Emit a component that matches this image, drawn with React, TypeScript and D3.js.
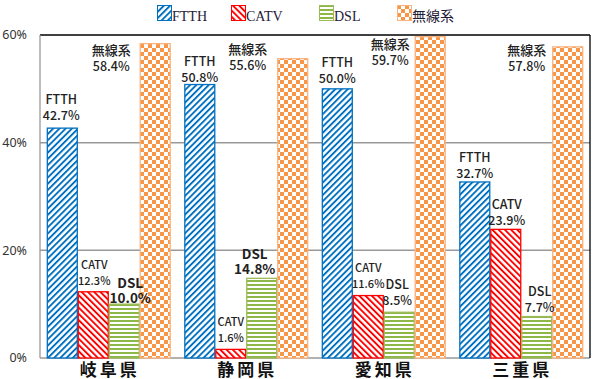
import React from "react";
import * as d3 from "d3";

const categories = ["岐阜県", "静岡県", "愛知県", "三重県"];
const seriesNames = ["FTTH", "CATV", "DSL", "無線系"];
const ftth = [42.7, 50.8, 50.0, 32.7];
const catv = [12.3, 1.6, 11.6, 23.9];
const dsl = [10.0, 14.8, 8.5, 7.7];
const wireless = [58.4, 55.6, 59.7, 57.8];
const yTicks = [0, 20, 40, 60];

// label placement: dx from bar center, dy = gap between bar top and 2nd-line baseline, font size
const labelDx = [
  [-1, 0, 0, 0],
  [1, 0, 0, 1],
  [6, -7, -2, 3],
  [-44, -45, -40, -41],
];
const labelDy = [
  [8, 3, 6, 4],
  [7, 7, 7.6, 4],
  [1, 4.5, 7, 4.5],
  [-27, -11, -28, -24],
];
const labelSize = [
  [12.5, 12.5, 12.5, 12.5],
  [11, 11, 11, 12.5],
  [13.5, 13.5, 12.5, 12.5],
  [12.5, 12.5, 12.5, 12.5],
];

const W = 600;
const H = 379;
const m = { left: 40, right: 10, top: 35, bottom: 21 };

export default function App() {
  const values = [ftth, catv, dsl, wireless];
  const x0 = d3.scaleBand().domain(categories).range([m.left, W - m.right]).paddingInner(0).paddingOuter(0);
  const x1 = d3.scaleBand().domain(seriesNames).range([0, x0.bandwidth()]).paddingOuter(0.22).paddingInner(0);
  const y = d3.scaleLinear().domain([0, 60]).range([H - m.bottom, m.top]);
  const fills = ["url(#pFtth)", "url(#pCatv)", "url(#pDsl)", "url(#pWl)"];
  const strokes = ["#0070C0", "#FF0000", "#9BBB59", "#FAB27E"];
  const legendX = [157, 231, 319, 397];
  const labelFont = "'Noto Sans CJK JP', 'Noto Sans', sans-serif";

  return (
    <svg width={W} height={H} style={{ position: "absolute", left: 0, top: 0, background: "#fff" }}>
      <defs>
        <pattern id="pFtth" patternUnits="userSpaceOnUse" width="4.4" height="4.4" patternTransform="rotate(45)">
          <rect width="4.4" height="4.4" fill="#fff" />
          <rect width="1.9" height="4.4" fill="#0070C0" />
        </pattern>
        <pattern id="pCatv" patternUnits="userSpaceOnUse" width="4.4" height="4.4" patternTransform="rotate(-45)">
          <rect width="4.4" height="4.4" fill="#fff" />
          <rect width="1.9" height="4.4" fill="#FF0000" />
        </pattern>
        <pattern id="pDsl" patternUnits="userSpaceOnUse" width="4" height="4">
          <rect width="4" height="4" fill="#fff" />
          <rect width="4" height="2" fill="#8DB848" />
        </pattern>
        <pattern id="pWl" patternUnits="userSpaceOnUse" width="8" height="8">
          <rect width="8" height="8" fill="#fff" />
          <rect width="4" height="4" fill="#F79646" />
          <rect x="4" y="4" width="4" height="4" fill="#F79646" />
        </pattern>
      </defs>

      {/* gridlines */}
      {yTicks.map((t) => (
        <line key={t} x1={m.left} x2={W - m.right} y1={y(t)} y2={y(t)} stroke={t === 60 ? "#000" : "#999"} strokeWidth={t === 60 ? 1.3 : 1.5} />
      ))}
      <line x1={m.left} x2={m.left} y1={m.top} y2={y(0)} stroke="#999" strokeWidth={1.3} />
      <line x1={W - m.right} x2={W - m.right} y1={m.top} y2={y(0)} stroke="#000" strokeWidth={1.3} />

      {/* y tick labels */}
      {yTicks.map((t) => (
        <text key={t} x={27} y={y(t)} dy="0.35em" textAnchor="end" fontSize={12.5} fill="#333" fontFamily="'Noto Sans', sans-serif">
          {t}%
        </text>
      ))}

      {/* bars */}
      {categories.map((c, ci) =>
        seriesNames.map((s, si) => {
          const bx = (x0(c) ?? 0) + (x1(s) ?? 0);
          const v = values[si][ci];
          return (
            <rect key={c + s} x={bx + 0.5} y={y(v)} width={x1.bandwidth() - 1} height={y(0) - y(v)} fill={fills[si]} stroke={strokes[si]} strokeWidth={1.3} />
          );
        })
      )}

      {/* value labels */}
      {categories.map((c, ci) =>
        seriesNames.map((s, si) => {
          const bx = (x0(c) ?? 0) + (x1(s) ?? 0) + x1.bandwidth() / 2 + labelDx[si][ci];
          const v = values[si][ci];
          const base = y(v) - labelDy[si][ci];
          const fs = labelSize[si][ci];
          const bold = fs >= 13;
          const gap = fs >= 13 ? 15 : 16;
          return (
            <text key={"l" + c + s} x={bx} textAnchor="middle" fontSize={fs} fill="#222" fontFamily={labelFont} fontWeight={bold ? 700 : 500}>
              <tspan x={bx} y={base - gap} fontSize={si === 3 ? 13 : fs}>{s}</tspan>
              <tspan x={bx} y={base}>{v.toFixed(1)}%</tspan>
            </text>
          );
        })
      )}

      {/* category labels */}
      {categories.map((c) => (
        <text key={"c" + c} x={(x0(c) ?? 0) + x0.bandwidth() / 2 + 1} y={376} textAnchor="middle" fontSize={17} fontWeight={700} letterSpacing={3} fill="#111" fontFamily={labelFont}>
          {c}
        </text>
      ))}

      {/* legend */}
      {seriesNames.map((s, i) => (
        <g key={"lg" + s} transform={`translate(${legendX[i]},5)`}>
          <rect x={0.5} y={0.5} width={14} height={15} fill={fills[i]} stroke={strokes[i]} strokeWidth={1} />
          <text x={15} y={15.5} fontSize={14} fill="#1f2038" fontFamily={i === 3 ? labelFont : "'Liberation Serif', serif"}>
            {s}
          </text>
        </g>
      ))}
    </svg>
  );
}
